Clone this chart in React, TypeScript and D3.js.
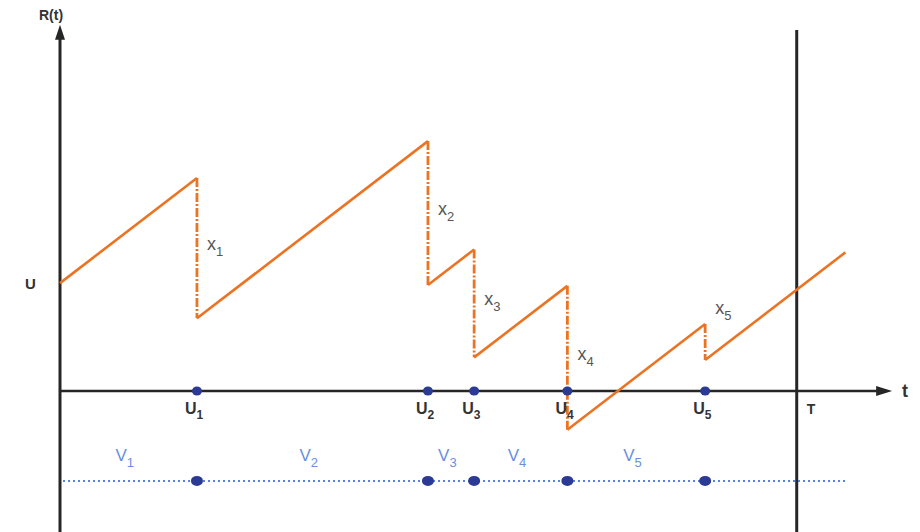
import React from "react";
import * as d3 from "d3";

// Risk process data
const claimTimes = [1.66, 4.46, 5.02, 6.15, 7.82];
const claimSizes = [3.9, 4.0, 3.0, 4.0, 1.0];
const claimIndex = ["1", "2", "3", "4", "5"];
const interIndex = ["1", "2", "3", "4", "5"];
const initialReserve = 3;
const premiumRate = 1.76;
const horizonT = 8.93;
const endTime = 9.52;

const W = 920;
const H = 532;

export default function App() {
  const x = d3.scaleLinear().domain([0, 10]).range([60, 885]);
  const y = d3.scaleLinear().domain([0, 9.9]).range([391, 35]);

  type Seg = { t0: number; r0: number; t1: number; r1: number };
  const rising: Seg[] = [];
  const jumps: { t: number; pre: number; post: number; size: number; idx: string }[] = [];
  let t = 0;
  let r = initialReserve;
  claimTimes.forEach((ct, i) => {
    const pre = r + premiumRate * (ct - t);
    rising.push({ t0: t, r0: r, t1: ct, r1: pre });
    const post = pre - claimSizes[i];
    jumps.push({ t: ct, pre, post, size: claimSizes[i], idx: claimIndex[i] });
    t = ct;
    r = post;
  });
  rising.push({ t0: t, r0: r, t1: endTime, r1: r + premiumRate * (endTime - t) });

  const line = d3
    .line<[number, number]>()
    .x((d) => x(d[0]))
    .y((d) => y(d[1]));

  const orange = "#ea7424";
  const axisCol = "#262626";
  const navy = "#2b3a94";
  const lightBlue = "#5b82d8";
  const font = "Liberation Sans, Arial, sans-serif";

  const x0 = x(0);
  const y0 = y(0);
  const yTop = y(10.1);
  const xEnd = x(10.05);
  const lowerY = y(-2.5);
  const vLabelY = y(-1.95);

  const boundaries = [0, ...claimTimes];

  return (
    <svg width={W} height={H} style={{ position: "absolute", left: 0, top: 0, background: "#fff" }}>
      {/* y axis */}
      <line x1={x0} y1={H + 5} x2={x0} y2={yTop + 8} stroke={axisCol} strokeWidth={3} />
      <path d={`M${x0},${yTop - 3} L${x0 - 5},${yTop + 12} L${x0 + 5},${yTop + 12} Z`} fill={axisCol} />
      <text x={x0 - 21} y={20} fontFamily={font} fontWeight="bold" fontSize={14} fill="#333">R(t)</text>

      {/* x axis */}
      <line x1={x0} y1={y0} x2={xEnd - 10} y2={y0} stroke={axisCol} strokeWidth={2.5} />
      <path d={`M${xEnd + 3},${y0} L${xEnd - 13},${y0 - 5} L${xEnd - 13},${y0 + 5} Z`} fill={axisCol} />
      <text x={902} y={397} fontFamily={font} fontWeight="bold" fontSize={18} fill="#333">t</text>

      {/* T vertical */}
      <line x1={x(horizonT)} y1={30} x2={x(horizonT)} y2={H + 5} stroke={axisCol} strokeWidth={3} />
      <text x={x(horizonT) + 10} y={414} fontFamily={font} fontWeight="bold" fontSize={14} fill="#333">T</text>

      {/* U label */}
      <text x={25} y={289} fontFamily={font} fontWeight="bold" fontSize={15} fill="#333">U</text>

      {/* rising segments */}
      {rising.map((s, i) => (
        <path
          key={"r" + i}
          d={line([[s.t0, s.r0], [s.t1, s.r1]]) || ""}
          stroke={orange}
          strokeWidth={2.6}
          fill="none"
        />
      ))}

      {/* jumps */}
      {jumps.map((j, i) => (
        <line
          key={"j" + i}
          x1={x(j.t)}
          y1={y(j.pre)}
          x2={x(j.t)}
          y2={y(j.post)}
          stroke={orange}
          strokeWidth={2.8}
          strokeDasharray="9,2,2,2"
        />
      ))}

      {/* X labels */}
      {jumps.map((j, i) => {
        const ly = j.size < 2 ? y(j.pre) - 10 : y((j.pre + j.post) / 2) + 2;
        return (
          <text key={"xl" + i} x={x(j.t) + 10} y={ly} fontFamily={font} fontSize={18} fill="#555">
            x
            <tspan dy={6} fontSize={13}>{j.idx}</tspan>
          </text>
        );
      })}

      {/* U_i dots and labels on x axis */}
      {claimTimes.map((ct, i) => (
        <g key={"u" + i}>
          <ellipse cx={x(ct)} cy={y0} rx={5} ry={4.5} fill={navy} />
          <text x={x(ct) - 12} y={414} fontFamily={font} fontWeight="bold" fontSize={16} fill="#333">
            U
            <tspan dy={5} fontSize={12}>{claimIndex[i]}</tspan>
          </text>
        </g>
      ))}

      {/* lower dotted line */}
      <line
        x1={x0 + 3}
        y1={lowerY}
        x2={x(endTime)}
        y2={lowerY}
        stroke={lightBlue}
        strokeWidth={2}
        strokeDasharray="2,3"
      />
      {claimTimes.map((ct, i) => (
        <ellipse key={"ld" + i} cx={x(ct)} cy={lowerY} rx={6} ry={5} fill={navy} />
      ))}
      {interIndex.map((lab, i) => {
        const mid = (x(boundaries[i]) + x(claimTimes[i])) / 2;
        return (
          <text key={"v" + i} x={mid - 13} y={vLabelY} fontFamily={font} fontSize={17} fill="#6a8fe0">
            V
            <tspan dy={6} fontSize={13}>{lab}</tspan>
          </text>
        );
      })}
    </svg>
  );
}
